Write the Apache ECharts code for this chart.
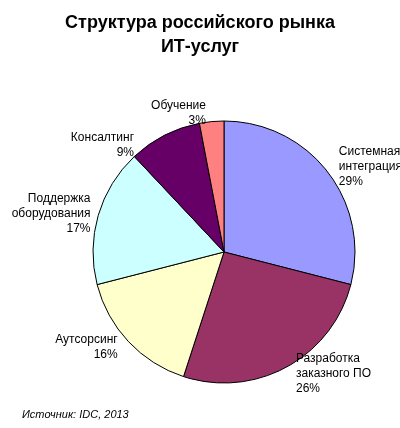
<!DOCTYPE html><html><head><meta charset="utf-8">
<script src="https://cdn.jsdelivr.net/npm/echarts@6/dist/echarts.min.js"></script>
<style>html,body{margin:0;background:#fff}#c{width:400px;height:428px}</style></head><body><div id="c"></div>
<script>
const categories=["Системная\nинтеграция","Разработка\nзаказного ПО","Аутсорсинг","Поддержка\nоборудования","Консалтинг","Обучение"];
const values=[29,26,16,17,9,3];
const colors=["#9999FF","#993366","#FFFFCC","#CCFFFF","#660066","#FF8080"];
const chart=echarts.init(document.getElementById('c'));
chart.setOption({
 animation:false,
 title:{text:"Структура российского рынка\nИТ-услуг",left:'center',top:6,textStyle:{fontFamily:'Liberation Sans',fontSize:18,fontWeight:'bold',color:'#000',lineHeight:24}},
 graphic:[{type:'text',left:22,top:409,style:{text:'Источник: IDC, 2013',font:'italic 11px Liberation Sans',fill:'#000'}}],
 series:[{type:'pie',center:[224,252],radius:131,startAngle:90,clockwise:true,
  data:categories.map((n,i)=>({name:n,value:values[i],itemStyle:{color:colors[i]}})),
  itemStyle:{borderColor:'#000',borderWidth:1},
  label:{show:true,position:'outside',formatter:'{b}\n{c}%',fontFamily:'Liberation Sans',fontSize:12,color:'#000',align:'center',lineHeight:15,overflow:'none',edgeDistance:2},
  labelLine:{show:false,length:8,length2:0},
  emphasis:{disabled:true}}]
});
</script></body></html>
